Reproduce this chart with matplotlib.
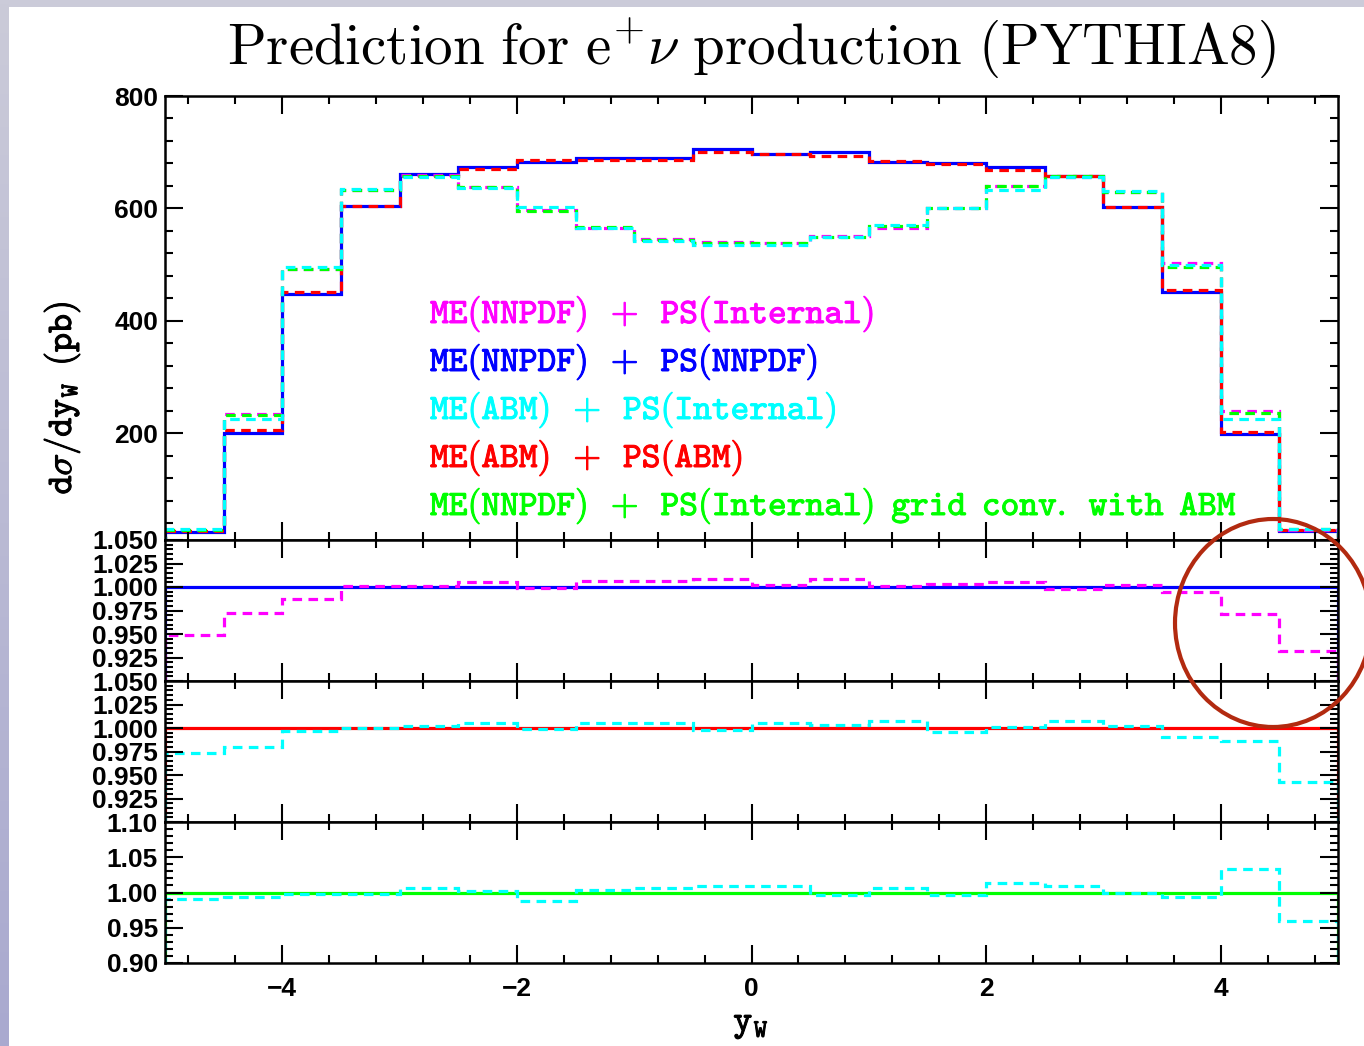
import numpy as np
import matplotlib
matplotlib.use('Agg')
import matplotlib.pyplot as plt
import matplotlib.patheffects as pe
from matplotlib.ticker import MultipleLocator, FixedLocator
from matplotlib.patches import Ellipse, Rectangle

plt.rcParams['mathtext.fontset'] = 'cm'

# bin edges in y_W
edges = np.linspace(-5, 5, 21)

# d sigma / dy_W (pb)
nnpdf_nnpdf = [25, 200, 447, 605, 661, 673, 683, 690, 690, 705,
               696, 700, 682, 681, 674, 657, 603, 452, 198, 26]
abm_abm = [26, 205, 452, 605, 658, 670, 686, 687, 687, 700,
           696, 694, 684, 679, 669, 657, 603, 454, 203, 27]
nnpdf_int = [27, 235, 493, 632, 659, 638, 598, 566, 545, 540,
             538, 551, 565, 601, 640, 655, 629, 502, 240, 28]
grid_abm = [28, 232, 493, 632, 657, 638, 596, 567, 544, 538,
            538, 550, 568, 600, 640, 657, 630, 496, 236, 29]
abm_int = [30, 226, 496, 634, 655, 636, 603, 565, 542, 535,
           535, 549, 570, 600, 632, 655, 631, 500, 226, 30]

# ratio panels
ratio1 = [0.949, 0.972, 0.987, 1.001, 1.001, 1.005, 0.999, 1.006, 1.006, 1.008,
          1.002, 1.009, 1.001, 1.003, 1.005, 0.998, 1.002, 0.995, 0.971, 0.932]
ratio2 = [0.973, 0.980, 0.997, 1.000, 1.002, 1.005, 0.999, 1.005, 1.005, 0.998,
          1.005, 1.003, 1.007, 0.996, 1.001, 1.007, 1.002, 0.990, 0.986, 0.943]
ratio3 = [0.991, 0.994, 0.998, 0.998, 1.007, 1.002, 0.988, 1.004, 1.006, 1.009,
          1.009, 0.997, 1.006, 0.997, 1.013, 1.009, 1.000, 0.994, 1.034, 0.959]
ones = np.ones(20)

legend_lines = ['ME(NNPDF) + PS(Internal)',
                'ME(NNPDF) + PS(NNPDF)',
                'ME(ABM) + PS(Internal)',
                'ME(ABM) + PS(ABM)',
                'ME(NNPDF) + PS(Internal) grid conv. with ABM']
legend_colors = ['#ff00ff', '#0000ff', '#00ffff', '#ff0000', '#00ff00']


def tt(s):
    # typewriter mathtext, one space ~ one character cell
    return r'$\mathtt{' + s.replace(' ', r'\ \,') + '}$'


W, H = 1364, 1046
fig = plt.figure(figsize=(W / 100, H / 100), dpi=100)

# slide background strips
fig.add_artist(Rectangle((0, 1 - 7 / H), 1, 7 / H, transform=fig.transFigure,
                         color='#cbcbd9', lw=0, zorder=0))
bg = fig.add_axes([0, 0, 9 / W, 1])
grad = np.linspace(0, 1, 256)[:, None]
bg.imshow(grad, aspect='auto', extent=[0, 1, 0, 1], origin='upper',
          cmap=matplotlib.colors.LinearSegmentedColormap.from_list('bg', ['#cbcbd9', '#a9a9cf']))
bg.axis('off')

L, R = 165 / W, 1338 / W
def fy(p):
    return 1 - p / H

ax0 = fig.add_axes([L, fy(540), R - L, fy(96) - fy(540)])
ax1 = fig.add_axes([L, fy(681), R - L, fy(540) - fy(681)])
ax2 = fig.add_axes([L, fy(822), R - L, fy(681) - fy(822)])
ax3 = fig.add_axes([L, fy(963), R - L, fy(822) - fy(963)])

tickfont = {'family': 'Liberation Sans', 'weight': 'bold', 'size': 19}
lw = 2.3
dash = (3, 2)

for ax in (ax0, ax1, ax2, ax3):
    ax.set_xlim(-5, 5)
    ax.xaxis.set_major_locator(MultipleLocator(2))
    ax.xaxis.set_minor_locator(MultipleLocator(0.4))
    ax.tick_params(which='both', direction='in', top=True, right=True, width=1.5)
    ax.tick_params(which='major', length=13, pad=5)
    ax.tick_params(which='minor', length=5.5)
    for s in ax.spines.values():
        s.set_linewidth(1.8)
    if ax is not ax3:
        ax.tick_params(labelbottom=False)

# main panel
ax0.stairs(nnpdf_nnpdf, edges, baseline=0, color='#0000ff', lw=lw)
ax0.stairs(abm_abm, edges, baseline=0, color='#ff0000', lw=lw, ls=(0, dash))
ax0.stairs(nnpdf_int, edges, baseline=0, color='#ff00ff', lw=lw, ls=(0, dash))
ax0.stairs(grid_abm, edges, baseline=0, color='#00ff00', lw=lw, ls=(0, dash))
ax0.stairs(abm_int, edges, baseline=0, color='#00ffff', lw=lw, ls=(0, dash))
ax0.set_ylim(10, 800)
ax0.yaxis.set_major_locator(FixedLocator([200, 400, 600, 800]))
ax0.yaxis.set_minor_locator(MultipleLocator(40))

# ratio panels
ax1.stairs(ones, edges, baseline=0, color='#0000ff', lw=lw)
ax1.stairs(ratio1, edges, baseline=0, color='#ff00ff', lw=lw, ls=(0, dash))
ax2.stairs(ones, edges, baseline=0, color='#ff0000', lw=lw)
ax2.stairs(ratio2, edges, baseline=0, color='#00ffff', lw=lw, ls=(0, dash))
ax3.stairs(ones, edges, baseline=0, color='#00ff00', lw=lw)
ax3.stairs(ratio3, edges, baseline=0, color='#00ffff', lw=lw, ls=(0, dash))

for ax in (ax1, ax2):
    ax.set_ylim(0.90, 1.05)
    ax.yaxis.set_major_locator(FixedLocator([0.925, 0.95, 0.975, 1.0, 1.025, 1.05]))
    ax.yaxis.set_minor_locator(MultipleLocator(0.005))
    ax.set_yticklabels(['0.925', '0.950', '0.975', '1.000', '1.025', '1.050'])
ax3.set_ylim(0.90, 1.10)
ax3.yaxis.set_major_locator(FixedLocator([0.90, 0.95, 1.0, 1.05, 1.10]))
ax3.yaxis.set_minor_locator(MultipleLocator(0.01))
ax3.set_yticklabels(['0.90', '0.95', '1.00', '1.05', '1.10'])
ax3.set_xticks([-4, -2, 0, 2, 4])
ax3.set_xticklabels(['\u22124', '\u22122', '0', '2', '4'])
ax3.tick_params(axis='x', which='major', pad=10)

for ax in (ax0, ax1, ax2, ax3):
    for lab in ax.get_xticklabels() + ax.get_yticklabels():
        lab.set_fontproperties(matplotlib.font_manager.FontProperties(**tickfont))

# legend text
for i, (txt, c) in enumerate(zip(legend_lines, legend_colors)):
    fig.text(430 / W, fy(314 + 48 * i), tt(txt), color=c, ha='left', va='center',
             size=25.7, path_effects=[pe.withStroke(linewidth=0.7, foreground=c)])

# title and axis labels
fig.text(751 / W, fy(48),
         r'$\mathrm{Prediction\ for\ e^{+}}\nu\mathrm{\ production\ (PYTHIA8)}$',
         ha='center', va='center', size=41)
fig.text(62 / W, fy(398), r'$\mathtt{d}\sigma\mathtt{/dy_{W}\ \,(pb)}$', rotation=90,
         ha='center', va='center', size=26,
         path_effects=[pe.withStroke(linewidth=0.7, foreground='black')])
fig.text(751 / W, fy(1024), r'$\mathtt{y_{W}}$', ha='center', va='center', size=26,
         path_effects=[pe.withStroke(linewidth=0.7, foreground='black')])

# hand-drawn circle annotation
fig.add_artist(Ellipse((1273 / W, fy(623)), 196 / W, 208 / H, transform=fig.transFigure,
                       fill=False, ec='#b22a10', lw=3, zorder=10))

fig.savefig('out.png', dpi=100)
